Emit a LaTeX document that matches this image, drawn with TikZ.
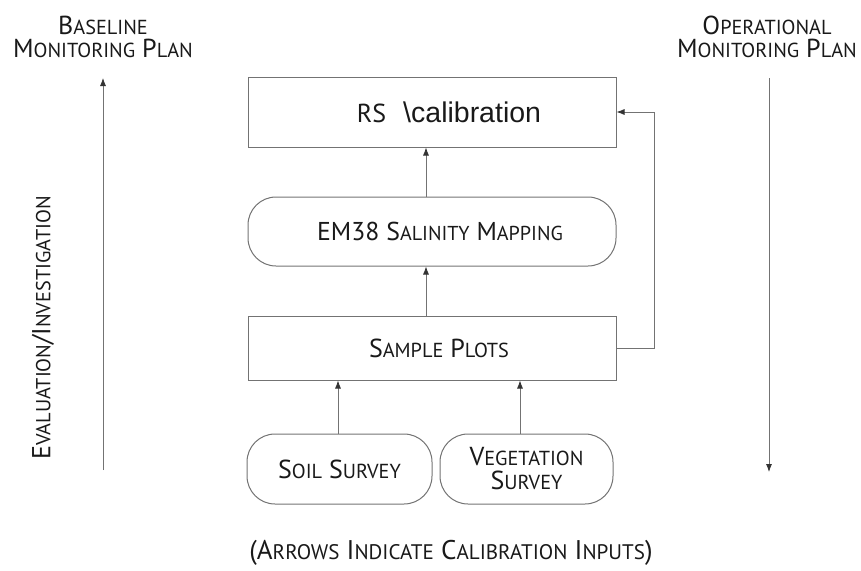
\documentclass[tikz,border=0pt]{standalone}
\usepackage{fontspec}
\usepackage{graphicx}
\setmainfont{PT Sans}
\newfontfamily\arialfont{Liberation Sans}
\usetikzlibrary{arrows.meta,calc}
\newcommand\SCx[2]{#1\scalebox{0.78}{#2}}
\begin{document}
\begin{tikzpicture}[x=1pt,y=-1pt,
  txt/.style={text=black!90, font=\fontsize{26}{24}\selectfont},
  sqbox/.style={draw=black!55, line width=1pt, minimum width=368pt, inner sep=0pt, txt},
  rndbox/.style={draw=black!55, line width=1pt, rounded corners=28pt, inner sep=0pt, txt, align=center},
  arr/.style={draw=black!55, line width=0.8pt, -{Latex[length=8pt,width=6pt,color=black!80]}},
]
\useasboundingbox (0,0) rectangle (861,570);
\node[sqbox, minimum height=70pt] (RS) at (432,112) {\hspace*{34pt}RS\hspace{17pt}{\arialfont\fontsize{28.5}{30}\selectfont\textbackslash calibration}};
\node[rndbox, minimum width=368pt, minimum height=69pt, font=\fontsize{25.8}{26}\selectfont] (EM) at (432,231.5) {\hspace*{16pt}EM38 \SCx{S}{ALINITY} \SCx{M}{APPING}};
\node[sqbox, minimum height=64pt] (SP) at (432,348) {\hspace*{14pt}\SCx{S}{AMPLE} \SCx{P}{LOTS}};
\node[rndbox, minimum width=185pt, minimum height=70pt] (SO) at (339.5,469) {\SCx{S}{OIL} \SCx{S}{URVEY}};
\node[rndbox, minimum width=173pt, minimum height=70pt] (VE) at (526.5,469) {\SCx{V}{EGETATION}\\\SCx{S}{URVEY}};
\coordinate (e1) at ($(EM.north)+(-6,0)$);
\coordinate (s1) at ($(SP.north)+(-6,0)$);
\coordinate (so1) at ($(SO.north)+(-1.5,0)$);
\coordinate (ve1) at ($(VE.north)+(-6.5,0)$);
\draw[arr] (e1) -- (e1 |- RS.south);
\draw[arr] (s1) -- (s1 |- EM.south);
\draw[arr] (so1) -- (so1 |- SP.south);
\draw[arr] (ve1) -- (ve1 |- SP.south);
\coordinate (fb) at (654,112);
\draw[arr] (SP.east) -| (fb) -- (RS.east);
\coordinate (L0) at (103,470);
\coordinate (L1) at (103,78);
\coordinate (R0) at (769,78);
\coordinate (R1) at (769,472);
\draw[arr] (L0) -- (L1);
\draw[arr] (R0) -- (R1);
\node[txt, align=center, font=\fontsize{26}{23}\selectfont] (base) at (103,37) {\SCx{B}{ASELINE}\\\SCx{M}{ONITORING} \SCx{P}{LAN}};
\node[txt, align=center, font=\fontsize{26}{23}\selectfont] (oper) at (767,37) {\SCx{O}{PERATIONAL}\\\SCx{M}{ONITORING} \SCx{P}{LAN}};
\node[txt, rotate=90] (eval) at (43,328) {\SCx{E}{VALUATION}/\SCx{I}{NVESTIGATION}};
\node[txt, font=\fontsize{27}{28}\selectfont] (note) at (451,553) {(\SCx{A}{RROWS} \SCx{I}{NDICATE} \SCx{C}{ALIBRATION} \SCx{I}{NPUTS})};
\end{tikzpicture}
\end{document}
